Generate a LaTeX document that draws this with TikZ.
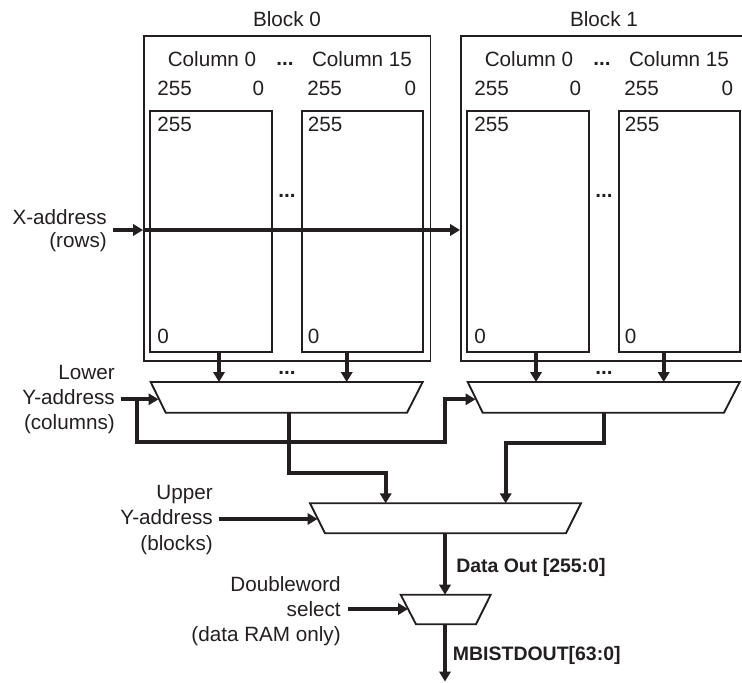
\documentclass[tikz,border=0pt]{standalone}
\usepackage{fontspec}
\setmainfont{Liberation Sans}
\usetikzlibrary{arrows.meta,calc}
\definecolor{ink}{RGB}{35,31,32}
\begin{document}
\begin{tikzpicture}[x=0.75pt,y=-0.75pt,
  thinl/.style={draw=ink,line width=1.4pt},
  conn/.style={draw=ink,line width=2.8pt},
  arr/.style={conn,-{Triangle[length=7.5pt,width=8.5pt]}},
  lbl/.style={inner sep=0pt,text=ink,font=\fontsize{15.5}{18.5}\selectfont},
  blbl/.style={inner sep=0pt,text=ink,font=\fontsize{14.6}{17}\selectfont\bfseries},
  dots/.style={inner sep=0pt,text=ink,font=\fontsize{15.5}{18}\selectfont\bfseries},
  outerbox/.style={thinl,rectangle,inner sep=0pt,minimum width=214.9pt,minimum height=243.75pt},
  cellbox/.style={thinl,rectangle,inner sep=0pt,minimum width=91.1pt,minimum height=180.75pt},
  muxshape/.style={thinl,fill=white,line join=miter}
]
\useasboundingbox (0,0) rectangle (742,682);
\clip (0,0) rectangle (742,682);

\foreach \i/\o in {0/0,1/317}{
  % block frame and title
  \node[outerbox] (blk\i) at (287.25+\o,198.5) {};
  \node[lbl,anchor=base] (bt\i) at (287+\o,26.7) {Block \i};
  % column headings
  \node[lbl,anchor=base] (cha\i) at (212+\o,66) {Column 0};
  \node[dots,anchor=base] (chd\i) at (285+\o,65) {...};
  \node[lbl,anchor=base] (chb\i) at (362+\o,66) {Column 15};
  \node[lbl,anchor=base west] (ra\i) at (157+\o,95) {255};
  \node[lbl,anchor=base east] (rb\i) at (264.5+\o,95) {0};
  \node[lbl,anchor=base west] (rc\i) at (307+\o,95) {255};
  \node[lbl,anchor=base east] (rd\i) at (416.5+\o,95) {0};
  % columns
  \node[cellbox] (ca\i) at (211+\o,231.5) {};
  \node[cellbox] (cb\i) at (362.5+\o,231.5) {};
  \node[lbl,anchor=base west] (cat\i) at (157+\o,131.7) {255};
  \node[lbl,anchor=base west] (cab\i) at (157+\o,343.3) {0};
  \node[lbl,anchor=base west] (cbt\i) at (307.5+\o,131.7) {255};
  \node[lbl,anchor=base west] (cbb\i) at (307.5+\o,343.3) {0};
  \node[dots,anchor=base] (cd\i) at (287+\o,197.5) {...};
  % lower multiplexer
  \draw[muxshape] (150.7+\o,382) -- (422.7+\o,382) -- (407+\o,412.7) -- (165.7+\o,412.7) -- cycle;
  \coordinate (mx\i a) at (219+\o,382);
  \coordinate (mx\i b) at (346.7+\o,382);
  \coordinate (mx\i sel) at (158.5+\o,399.3);
  \node[dots,anchor=base] (md\i) at (287+\o,374) {...};
  \draw[arr] (ca\i.south -| mx\i a) -- (mx\i a);
  \draw[arr] (cb\i.south -| mx\i b) -- (mx\i b);
}
\coordinate (mx0out) at (289,412.7);
\coordinate (mx1out) at (604.3,412.7);

% X-address
\node[lbl,anchor=east,align=right,font=\fontsize{15.5}{17.3}\selectfont] (xlab) at (107,231) {X-address\\(rows)};
\coordinate (xa) at (113,230);
\draw[arr] (xa) -- (xa -| blk0.west);
\draw[arr] (xa -| blk0.west) -- (xa -| blk1.west);

% Lower Y-address
\node[lbl,anchor=east,align=right] (lylab) at (115,399.5) {Lower\\Y-address\\(columns)};
\coordinate (ly) at (120.7,399.3);
\coordinate (lyb) at (136.7,399.3);
\coordinate (ly2) at (445,442);
\draw[arr] (ly) -- (mx0sel);
\draw[arr] (lyb) |- (ly2) |- (mx1sel);

% upper multiplexer
\draw[muxshape] (310,503.3) -- (581,503.3) -- (566,533.3) -- (325,533.3) -- cycle;
\coordinate (umi1) at (385.7,503.3);
\coordinate (umi2) at (505.7,503.3);
\coordinate (umsel) at (317.5,519);
\coordinate (umout) at (445,533.3);
\coordinate (t0) at (289,473);
\coordinate (t1) at (604.3,442.7);
\draw[arr] (mx0out) -- (t0) -| (umi1);
\draw[arr] (mx1out) -- (t1) -| (umi2);

\node[lbl,anchor=east,align=right,font=\fontsize{15.5}{19}\selectfont] (uylab) at (213,520) {Upper\\Y-address\\(blocks)};
\coordinate (uy) at (219,519);
\draw[arr] (uy) -- (umsel);

% doubleword multiplexer
\draw[muxshape] (400.7,594.7) -- (490.7,594.7) -- (476,624.3) -- (416,624.3) -- cycle;
\coordinate (dwin) at (445,594.7);
\coordinate (dwsel) at (408,609);
\coordinate (dwout) at (445,624.3);
\coordinate (dwend) at (445,681.5);
\draw[arr] (umout) -- (dwin);
\node[blbl,anchor=base west] (dolab) at (456,572) {Data Out [255:0]};

\node[lbl,anchor=east,align=right,font=\fontsize{15.5}{19}\selectfont] (dwlab) at (341,611) {Doubleword\\select\\(data RAM only)};
\coordinate (dws) at (348,609);
\draw[arr] (dws) -- (dwsel);
\draw[arr] (dwout) -- (dwend);
\node[blbl,anchor=base west] (mblab) at (452.7,660.7) {MBISTDOUT[63:0]};
\end{tikzpicture}
\end{document}
